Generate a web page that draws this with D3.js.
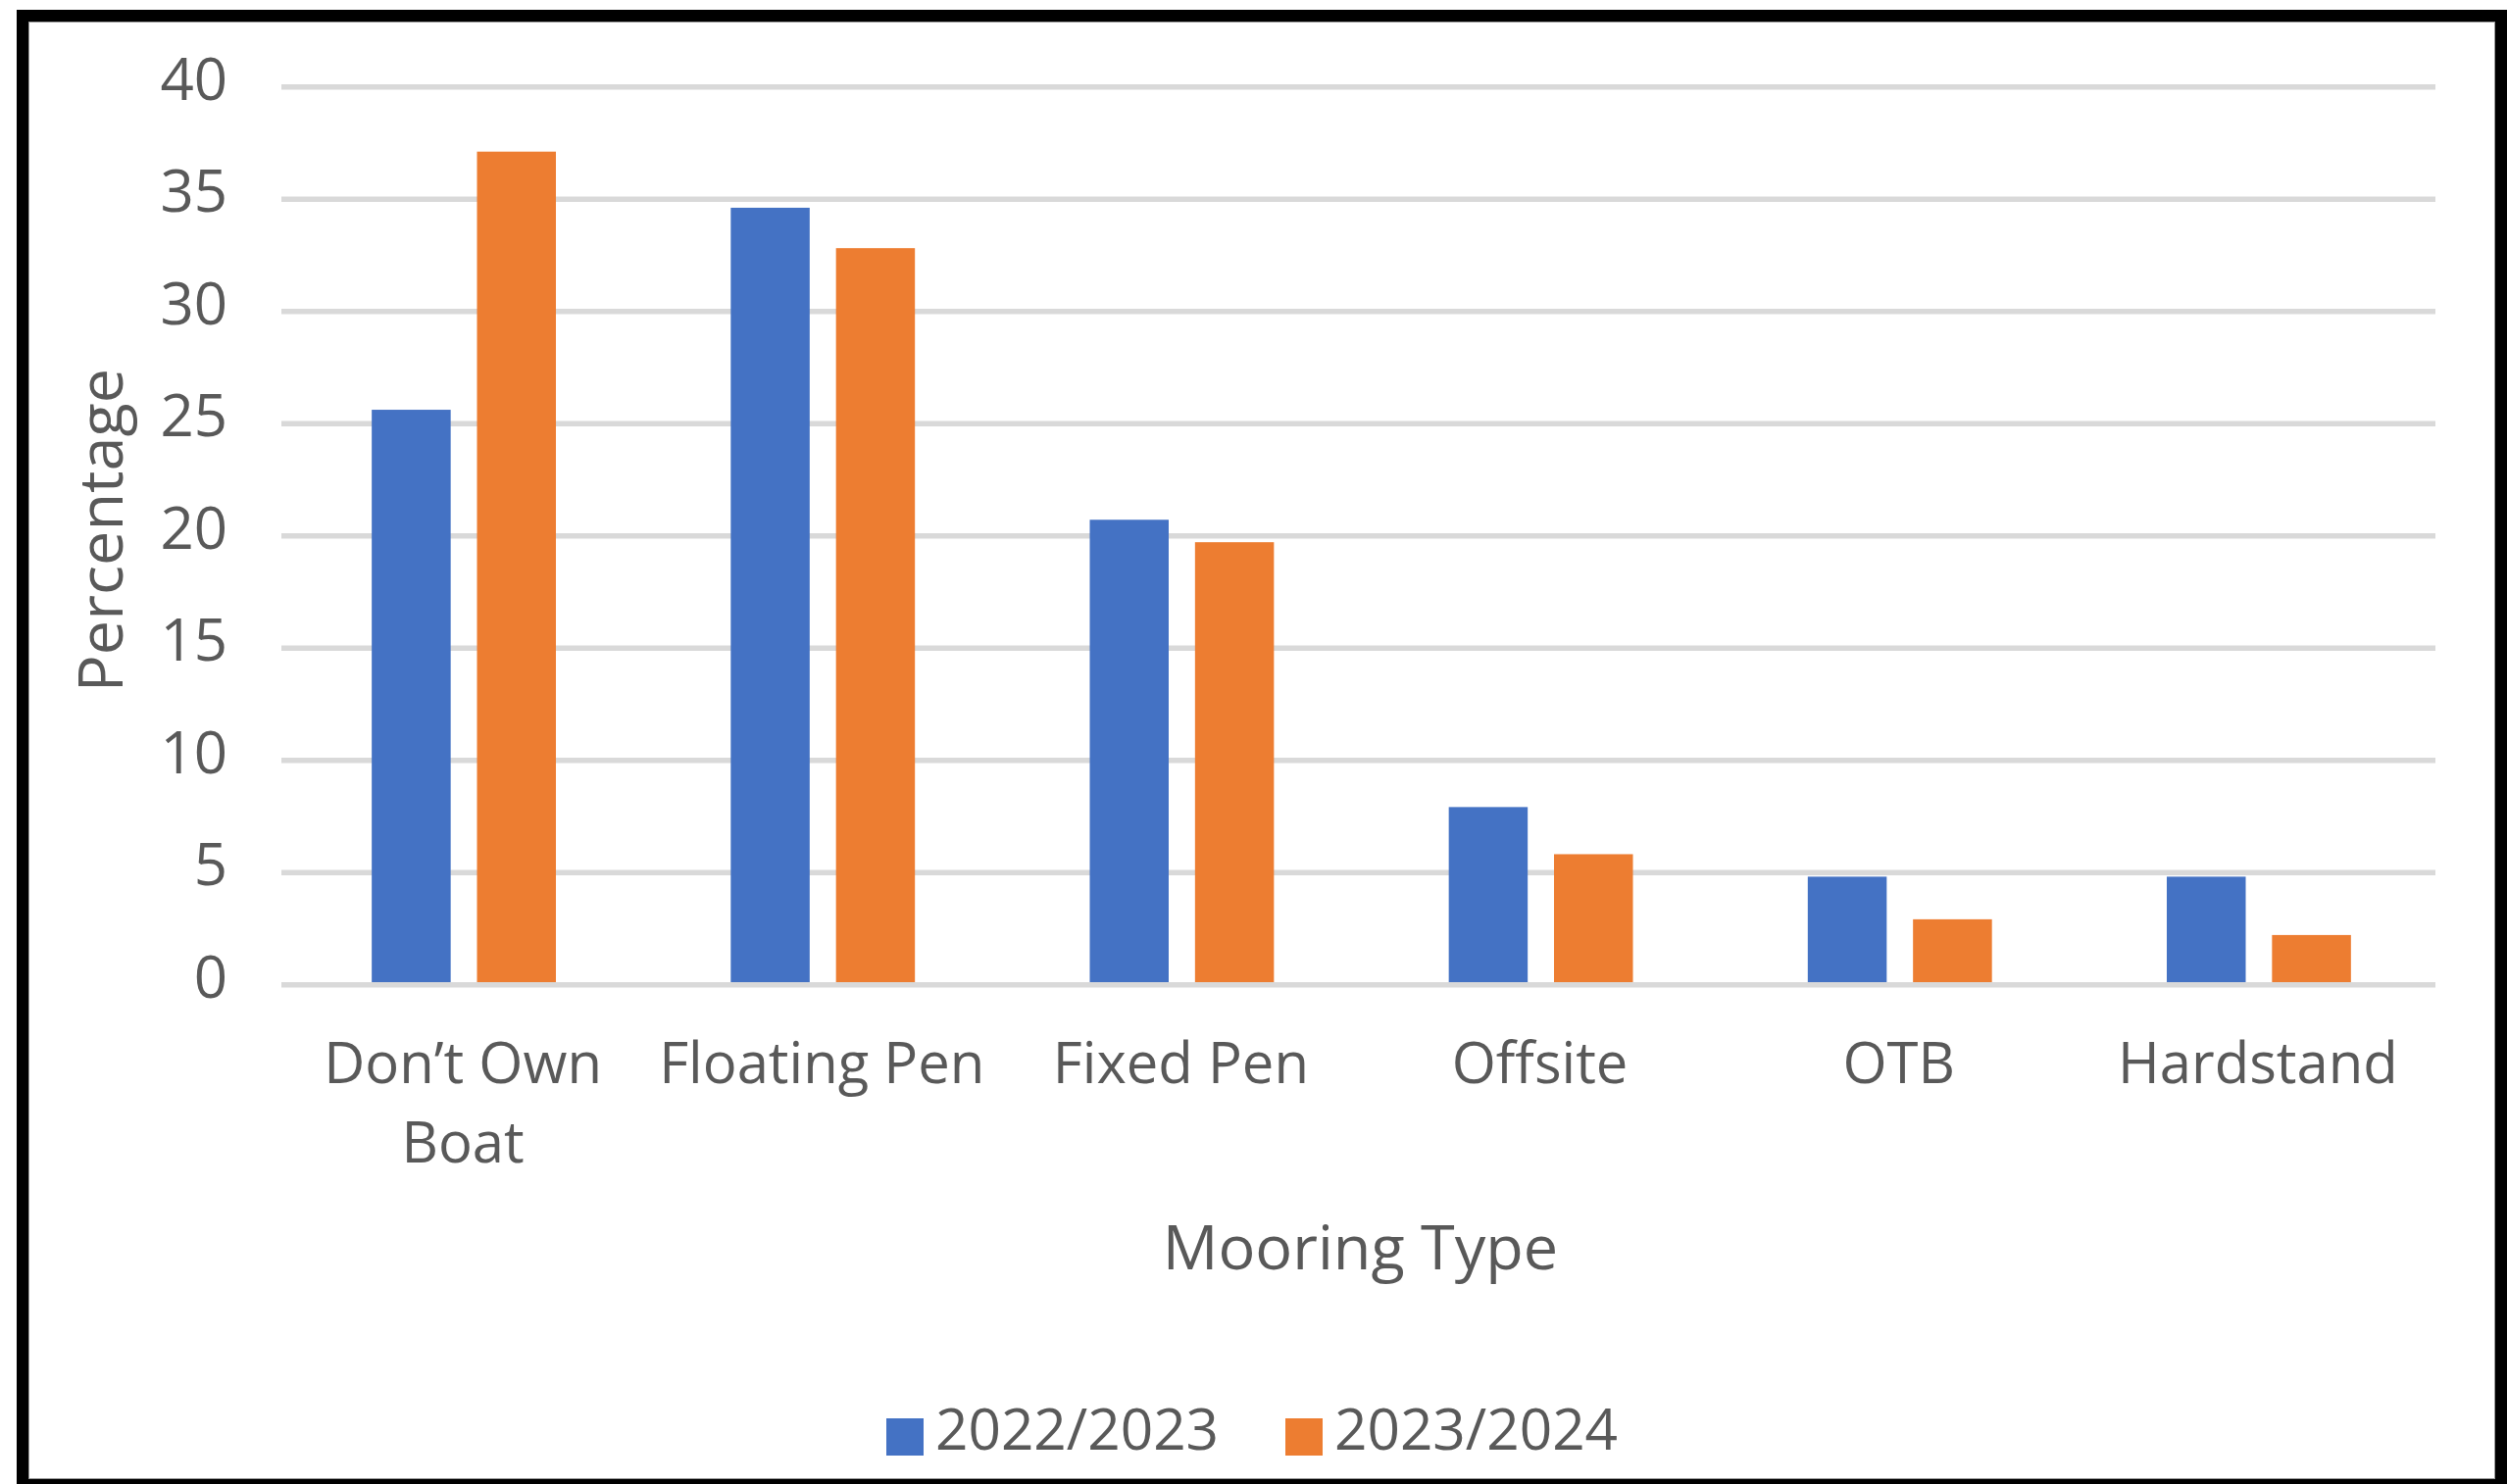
<!DOCTYPE html>
<html>
<head>
<meta charset="utf-8">
<script src="https://cdn.jsdelivr.net/npm/d3@7"></script>
<style>
  html, body { margin: 0; padding: 0; background: #ffffff; }
  svg { display: block; }
  text { font-family: "Open Sans", "DejaVu Sans", sans-serif; fill: #595959; }
</style>
</head>
<body>
<svg id="chart" width="2557" height="1514"></svg>
<script>
// ---- data ----
const categories = [["Don\u2019t Own", "Boat"], ["Floating Pen"], ["Fixed Pen"], ["Offsite"], ["OTB"], ["Hardstand"]];
const seriesNames = ["2022/2023", "2023/2024"];
const values2022 = [25.5, 34.5, 20.6, 7.8, 4.7, 4.7];
const values2023 = [37.0, 32.7, 19.6, 5.7, 2.8, 2.1];
const yTicks = [0, 5, 10, 15, 20, 25, 30, 35, 40];
const yTitle = "Percentage";
const xTitle = "Mooring Type";
const colors = ["#4472c4", "#ed7d31"];

(function () {
const svg = d3.select("#chart");
const W = 2557, H = 1514;

svg.append("rect").attr("x", 0).attr("y", 0).attr("width", W).attr("height", H).attr("fill", "#ffffff");

// plot area
const pLeft = 287, pRight = 2484, pTop = 86, pBottom = 1002;
const catKeys = categories.map((c, i) => i);

const x0 = d3.scaleBand().domain(catKeys).range([pLeft, pRight]).paddingInner(0.487).paddingOuter(0.2435);
const x1 = d3.scaleBand().domain(seriesNames).range([0, x0.bandwidth()]).paddingInner(0.25).paddingOuter(0);
const y = d3.scaleLinear().domain([0, 40]).range([pBottom, pTop]);

// gridlines
const grid = svg.append("g");
grid.selectAll("line").data(yTicks.filter(t => t !== 0)).join("line")
  .attr("x1", pLeft).attr("x2", pRight)
  .attr("y1", d => y(d) + 2.7).attr("y2", d => y(d) + 2.7)
  .attr("stroke", "#d9d9d9").attr("stroke-width", 5.5);

// bars
const rows = catKeys.map(i => ({ i, vals: [values2022[i], values2023[i]] }));
const groups = svg.append("g").selectAll("g").data(rows).join("g")
  .attr("transform", d => `translate(${x0(d.i) + 3},0)`);
groups.selectAll("rect").data(d => d.vals.map((v, k) => ({ v, k }))).join("rect")
  .attr("x", d => x1(seriesNames[d.k]))
  .attr("width", x1.bandwidth())
  .attr("y", d => y(d.v))
  .attr("height", d => y(0) - y(d.v))
  .attr("fill", d => colors[d.k]);

// zero line on top
svg.append("line")
  .attr("x1", pLeft).attr("x2", pRight)
  .attr("y1", y(0) + 2.7).attr("y2", y(0) + 2.7)
  .attr("stroke", "#d9d9d9").attr("stroke-width", 5.5);

// y tick labels
svg.append("g").selectAll("text").data(yTicks).join("text")
  .attr("x", 232).attr("y", d => y(d) + 15.5)
  .attr("text-anchor", "end")
  .attr("font-size", 60)
  .text(d => d);

// x category labels
const xl = svg.append("g").selectAll("text").data(rows).join("text")
  .attr("text-anchor", "middle")
  .attr("font-size", 58)
  .attr("transform", d => `translate(${x0(d.i) + x0.bandwidth() / 2 + 2},0)`);
xl.selectAll("tspan").data(d => categories[d.i]).join("tspan")
  .attr("x", 0)
  .attr("y", (d, j) => 1104.5 + j * 81)
  .text(d => d);

// axis titles
svg.append("text")
  .attr("text-anchor", "middle")
  .attr("font-size", 63)
  .attr("x", (pLeft + pRight) / 2 + 2).attr("y", 1295)
  .text(xTitle);

svg.append("text")
  .attr("text-anchor", "middle")
  .attr("font-size", 63)
  .attr("transform", `translate(125,${(pTop + pBottom) / 2 - 3}) rotate(-90)`)
  .text(yTitle);

// legend
const legendX = [904, 1311];
const lg = svg.append("g").selectAll("g").data(seriesNames).join("g")
  .attr("transform", (d, k) => `translate(${legendX[k]},0)`);
lg.append("rect").attr("x", 0).attr("y", 1447).attr("width", 38).attr("height", 38)
  .attr("fill", (d, k) => colors[k]);
lg.append("text").attr("x", 50).attr("y", 1479).attr("font-size", 58.5).text(d => d);

// frame
svg.append("rect").attr("x", 29.5).attr("y", 22.5).attr("width", 2515).attr("height", 1486)
  .attr("fill", "none").attr("stroke", "#9a9a9a").attr("stroke-width", 1);
svg.append("rect").attr("x", 23).attr("y", 16).attr("width", 2528).attr("height", 1499)
  .attr("fill", "none").attr("stroke", "#000000").attr("stroke-width", 12);
})();
</script>
</body>
</html>
